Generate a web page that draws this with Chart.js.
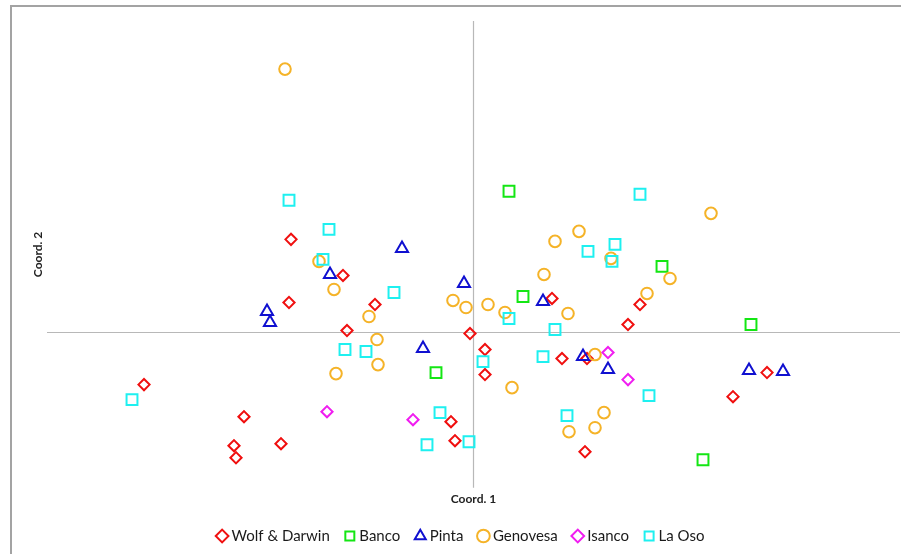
<!DOCTYPE html>
<html>
<head>
<meta charset="utf-8">
<title>PCoA</title>
<script src="https://cdn.jsdelivr.net/npm/chart.js@4/dist/chart.umd.min.js"></script>
<style>
  html, body { margin: 0; padding: 0; background: #ffffff; }
  #wrap { position: relative; width: 901px; height: 554px; }
</style>
</head>
<body>
<div id="wrap"><canvas id="pcoa" width="901" height="554"></canvas></div>
<script>
// Principal coordinates, one pair of arrays per population
const wolfX = [-1.82, -1.30, -1.84, -0.98, -1.26, -0.03, 0.12, 0.12, -3.29, -2.29, -2.39, -2.37, -1.92, -0.22, -0.18, 0.79, 1.67, 1.55, 0.89, 1.14, 1.12, 2.94, 2.60];
const wolfY = [0.93, 0.57, 0.30, 0.28, 0.02, -0.01, -0.17, -0.42, -0.52, -0.84, -1.13, -1.25, -1.11, -0.89, -1.08, 0.34, 0.28, 0.08, -0.26, -0.26, -1.19, -0.40, -0.64];

const bancoX = [0.36, 0.50, 1.89, 2.78, -0.37, 2.30];
const bancoY = [1.41, 0.36, 0.66, 0.08, -0.40, -1.27];

const pintaX = [-0.71, -1.43, -0.09, -2.06, -2.03, 0.70, -0.50, 1.10, 1.35, 2.76, 3.10];
const pintaY = [0.84, 0.58, 0.49, 0.21, 0.10, 0.31, -0.16, -0.24, -0.37, -0.38, -0.39];

const genovesaX = [-1.88, 2.38, 0.82, 1.06, 1.38, 0.71, 1.97, 1.74, 0.95, 0.32, -1.54, -1.39, -1.04, -0.20, -0.07, 0.15, -0.96, -0.95, -1.37, 0.39, 1.22, 1.31, 1.22, 0.96];
const genovesaY = [2.63, 1.19, 0.91, 1.01, 0.74, 0.58, 0.54, 0.39, 0.19, 0.20, 0.71, 0.43, 0.16, 0.32, 0.25, 0.28, -0.07, -0.32, -0.41, -0.55, -0.22, -0.80, -0.95, -0.99];

const isancoX = [-1.46, -0.60, 1.35, 1.55];
const isancoY = [-0.79, -0.87, -0.20, -0.47];

const laOsoX = [-1.84, -1.44, -1.50, -0.79, 1.67, 1.15, 1.42, 1.39, 0.36, 0.82, -1.28, -1.07, 0.10, -0.33, -0.46, -0.04, -3.41, 0.70, 0.94, 1.76];
const laOsoY = [1.32, 1.03, 0.73, 0.40, 1.38, 0.81, 0.88, 0.71, 0.14, 0.03, -0.17, -0.19, -0.29, -0.80, -1.12, -1.09, -0.67, -0.24, -0.83, -0.63];

const seriesNames = ['Wolf & Darwin', 'Banco', 'Pinta', 'Genovesa', 'Isanco', 'La Oso'];
const axisTitles = ['Coord. 1', 'Coord. 2'];

const toPoints = (xs, ys) => xs.map((x, i) => ({ x: x, y: ys[i] }));

function series(idx, xs, ys, color, style, radius) {
  return {
    label: seriesNames[idx],
    data: toPoints(xs, ys),
    borderColor: color,
    backgroundColor: 'rgba(0,0,0,0)',
    borderWidth: 2,
    pointStyle: style,
    pointRadius: radius,
    pointHoverRadius: radius,
    showLine: false,
    order: 6 - idx   // later populations are painted over earlier ones
  };
}

// Frame around the figure and the two zero axes crossing the plot
const frameAndAxes = {
  id: 'frameAndAxes',
  beforeDraw(chart) {
    const ctx = chart.ctx;
    ctx.save();
    ctx.fillStyle = '#ffffff';
    ctx.fillRect(0, 0, chart.width, chart.height);
    ctx.strokeStyle = '#a3a3a3';
    ctx.lineWidth = 2;
    ctx.strokeRect(11, 6, chart.width + 20, chart.height + 20);
    ctx.restore();
  },
  beforeDatasetsDraw(chart) {
    const { ctx, chartArea: a, scales } = chart;
    const x0 = Math.round(scales.x.getPixelForValue(0)) + 0.5;
    const y0 = Math.round(scales.y.getPixelForValue(0)) - 0.5;
    ctx.save();
    ctx.strokeStyle = '#b8b8b8';
    ctx.lineWidth = 1.2;
    ctx.beginPath();
    ctx.moveTo(a.left, y0);
    ctx.lineTo(a.right, y0);
    ctx.moveTo(x0, a.top);
    ctx.lineTo(x0, a.bottom);
    ctx.stroke();
    ctx.restore();
  }
};

const hiddenGrid = { display: false, drawTicks: false };

new Chart(document.getElementById('pcoa'), {
  type: 'scatter',
  data: {
    datasets: [
      series(0, wolfX, wolfY, '#f01010', 'rectRot', 5.6),
      series(1, bancoX, bancoY, '#14e614', 'rect', 7.7),
      series(2, pintaX, pintaY, '#1010d0', 'triangle', 7),
      series(3, genovesaX, genovesaY, '#f5b328', 'circle', 5.8),
      series(4, isancoX, isancoY, '#f01ef0', 'rectRot', 5.6),
      series(5, laOsoX, laOsoY, '#1ef0f0', 'rect', 7.7)
    ]
  },
  options: {
    responsive: false,
    animation: false,
    events: [],
    layout: { autoPadding: false, padding: { top: 21, right: 1, bottom: 0.5, left: 24.6 } },
    scales: {
      x: {
        type: 'linear',
        min: -4.26,
        max: 4.27,
        grid: hiddenGrid,
        border: { display: false },
        ticks: { display: false },
        title: {
          display: true,
          text: axisTitles[0],
          color: '#222222',
          font: { family: 'Lato', size: 12, weight: 'bold' },
          padding: { top: 4, bottom: 4.3 }
        }
      },
      y: {
        type: 'linear',
        min: -1.55,
        max: 3.11,
        grid: hiddenGrid,
        border: { display: false },
        ticks: { display: false },
        title: {
          display: true,
          text: axisTitles[1],
          color: '#222222',
          font: { family: 'Lato', size: 12, weight: 'bold' },
          padding: { top: 6, bottom: 2 }
        }
      }
    },
    plugins: {
      tooltip: { enabled: false },
      legend: {
        position: 'bottom',
        labels: {
          usePointStyle: true,
          boxWidth: 4,
          boxHeight: 9,
          padding: 18,
          color: '#1a1a1a',
          font: { family: 'Lato', size: 15 },
          sort: (a, b) => a.datasetIndex - b.datasetIndex
        }
      }
    }
  },
  plugins: [frameAndAxes]
});
</script>
</body>
</html>
